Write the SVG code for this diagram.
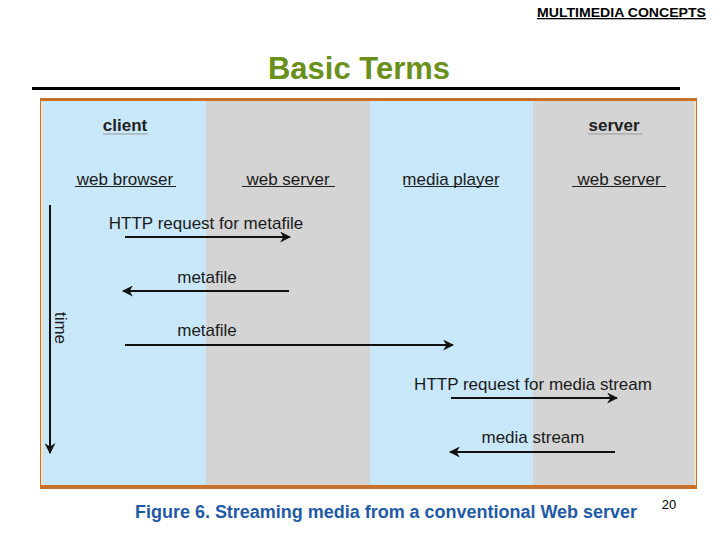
<svg xmlns="http://www.w3.org/2000/svg" width="720" height="540" viewBox="0 0 720 540">
<defs>
<style>
.lbl{font-family:"Liberation Sans",Arial,sans-serif;font-size:17px;fill:#1a1a1a;text-anchor:middle}
.hdr{font-family:"Liberation Sans",Arial,sans-serif;font-size:17px;font-weight:bold;fill:#222;text-anchor:middle}
.ul{stroke:#222;stroke-width:1}
.ulh{stroke:#999;stroke-width:1}
.arr{stroke:#111;stroke-width:2;fill:none;marker-end:url(#ah)}
</style>
<marker id="ah" viewBox="0 0 10 10" refX="9" refY="5" markerWidth="5.5" markerHeight="5.5" orient="auto" markerUnits="strokeWidth">
<path d="M0,0 L10,5 L0,10 L3,5 z" fill="#111"/>
</marker>
</defs>
<rect width="720" height="540" fill="#fff"/>
<text x="537" y="17" font-family="Liberation Sans,Arial,sans-serif" font-size="13" font-weight="bold" fill="#000" text-decoration="underline" textLength="169" lengthAdjust="spacingAndGlyphs">MULTIMEDIA CONCEPTS</text>
<text x="359" y="79" font-family="Liberation Sans,Arial,sans-serif" font-size="31" font-weight="bold" text-anchor="middle" fill="#6a8f1a">Basic Terms</text>
<line x1="32" y1="88.5" x2="680" y2="88.5" stroke="#000" stroke-width="3"/>
<g id="frame">
<rect x="40" y="98" width="657" height="391" fill="#c8702a"/>
<rect x="41" y="101" width="655" height="384" fill="#f3e3c4"/>
<rect x="43" y="101" width="163" height="384" fill="#c8e8f9"/>
<rect x="206" y="101" width="164" height="384" fill="#d4d4d4"/>
<rect x="370" y="101" width="163" height="384" fill="#c8e8f9"/>
<rect x="533" y="101" width="161" height="384" fill="#d4d4d4"/>
</g>
<g id="client"><text class="hdr" x="125" y="131">client</text><line class="ulh" x1="103" y1="134" x2="148" y2="134"/></g>
<g id="server"><text class="hdr" x="614" y="131">server</text><line class="ulh" x1="588" y1="134" x2="642" y2="134"/></g>
<g id="web-browser"><text class="lbl" x="125" y="185">web browser</text><line class="ul" x1="75" y1="186.5" x2="176" y2="186.5"/></g>
<g id="web-server-1"><text class="lbl" x="288" y="185">web server</text><line class="ul" x1="242" y1="186.5" x2="335" y2="186.5"/></g>
<g id="media-player"><text class="lbl" x="451" y="185">media player</text><line class="ul" x1="404" y1="186.5" x2="499" y2="186.5"/></g>
<g id="web-server-2"><text class="lbl" x="619" y="185">web server</text><line class="ul" x1="572" y1="186.5" x2="666" y2="186.5"/></g>
<g id="time"><text class="lbl" x="0" y="0" transform="translate(55,328) rotate(90)">time</text></g>
<g id="connectors">
<line class="arr" x1="50" y1="205" x2="50" y2="453"/>
<line class="arr" x1="125" y1="237" x2="290" y2="237"/>
<line class="arr" x1="289" y1="291" x2="123" y2="291"/>
<line class="arr" x1="125" y1="345" x2="453" y2="345"/>
<line class="arr" x1="451" y1="398" x2="617" y2="398"/>
<line class="arr" x1="615" y1="452" x2="450" y2="452"/>
</g>
<g id="labels">
<text class="lbl" x="206" y="229">HTTP request for metafile</text>
<text class="lbl" x="207" y="283">metafile</text>
<text class="lbl" x="207" y="336">metafile</text>
<text class="lbl" x="533" y="390">HTTP request for media stream</text>
<text class="lbl" x="533" y="443">media stream</text>
</g>
<text x="386" y="518" font-family="Liberation Sans,Arial,sans-serif" font-size="17.5" font-weight="bold" text-anchor="middle" fill="#1e5aa8" textLength="502" lengthAdjust="spacingAndGlyphs">Figure 6. Streaming media from a conventional Web server</text>
<text x="669" y="509" font-family="Liberation Sans,Arial,sans-serif" font-size="13" text-anchor="middle" fill="#000">20</text>
</svg>
